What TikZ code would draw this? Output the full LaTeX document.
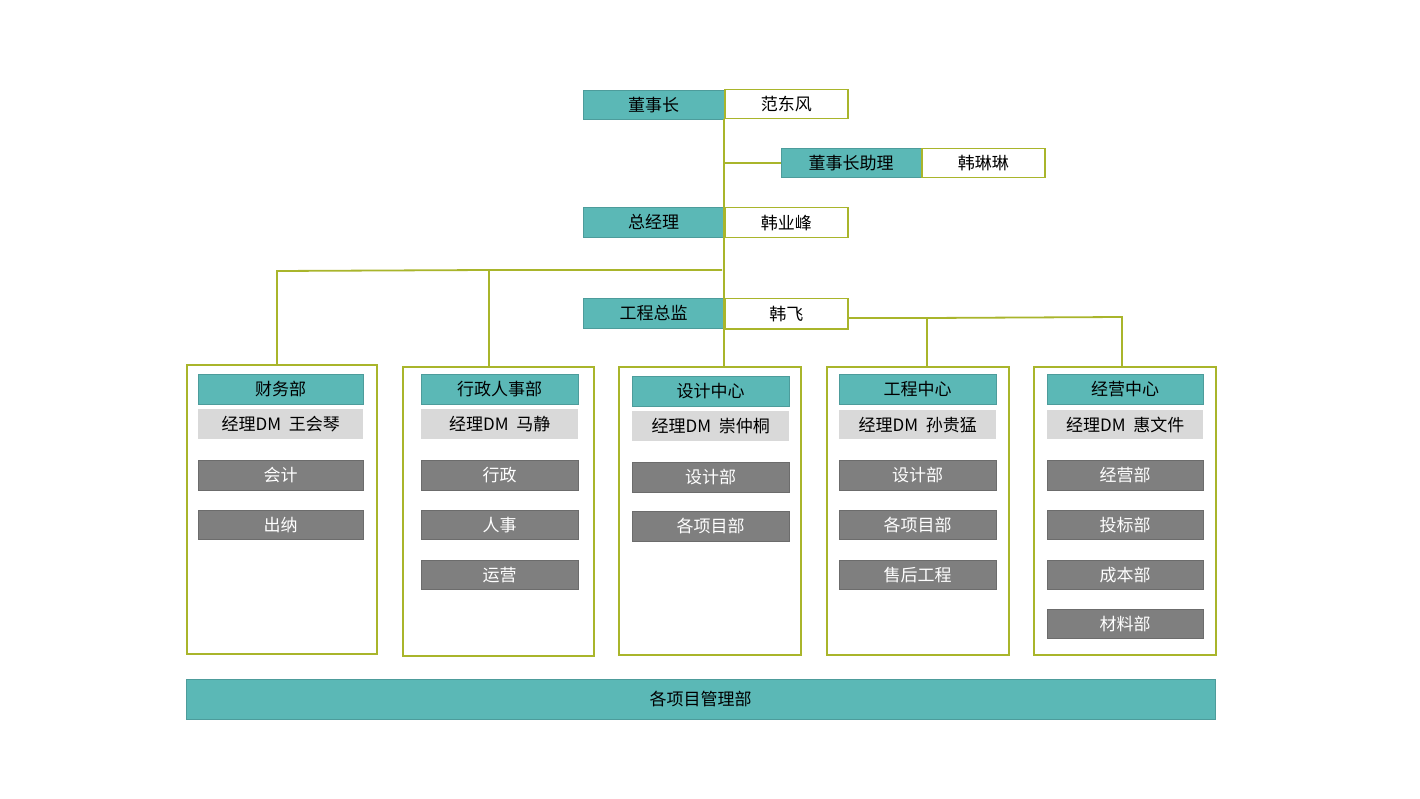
\documentclass[tikz,border=0pt]{standalone}
\usepackage{fontspec}
\setmainfont{Noto Sans CJK SC}
\definecolor{tealc}{HTML}{5BB8B6}
\definecolor{olivec}{HTML}{A9B52B}
\definecolor{darkg}{HTML}{7F7F7F}
\definecolor{lightg}{HTML}{D9D9D9}
\tikzset{
  base/.style={anchor=north west, inner sep=0pt, font=\fontsize{17}{19}\selectfont},
  tealbox/.style={base, fill=tealc, draw=tealc!85!black, line width=0.4pt, text=black},
  namebox/.style={base, fill=white, draw=olivec, line width=1.5pt, text=black},
  mgrbox/.style={base, fill=lightg, text=black},
  itembox/.style={base, fill=darkg, draw=darkg!85!black, line width=0.4pt, text=white},
  deptbox/.style={anchor=north west, inner sep=0pt, draw=olivec, line width=2pt, fill=white},
  conn/.style={draw=olivec, line width=1.8pt}
}
\begin{document}
\begin{tikzpicture}[x=1pt,y=-1pt]
\useasboundingbox[fill=white] (0,0) rectangle (1420,799);

% department frames
\node[deptbox, minimum width=190, minimum height=289] (d1) at (186,364) {};
\node[deptbox, minimum width=191, minimum height=289] (d2) at (402,366) {};
\node[deptbox, minimum width=182, minimum height=288] (d3) at (618,366) {};
\node[deptbox, minimum width=182, minimum height=288] (d4) at (826,366) {};
\node[deptbox, minimum width=182, minimum height=288] (d5) at (1033,366) {};

% top hierarchy
\node[tealbox, minimum width=141, minimum height=29] (dsz) at (583,90) {董事长};
\node[namebox, minimum width=123, minimum height=29] (fdf) at (724,89) {范东风};
\node[tealbox, minimum width=140, minimum height=29] (zl) at (781,148) {董事长助理};
\node[namebox, minimum width=123, minimum height=29] (hll) at (921,148) {韩琳琳};
\node[tealbox, minimum width=141, minimum height=30] (zjl) at (583,207) {总经理};
\node[namebox, minimum width=123, minimum height=30] (hyf) at (724,207) {韩业峰};
\node[tealbox, minimum width=141, minimum height=30] (gczj) at (583,298) {工程总监};
\node[namebox, minimum width=123, minimum height=30] (hf) at (724,298) {韩飞};

% connectors
\coordinate (top) at (fdf.south west);
\coordinate (j1) at (722,270);
\coordinate (c1) at (277,271);
\coordinate (c2) at (489,270);
\coordinate (c4) at (927,318);
\coordinate (c5) at (1122,317);
\draw[conn] (top) -- (top |- d3.north);
\draw[conn] (top |- zl.west) -- (zl.west);
\draw[conn] (j1) -- (c2) -- (c1) -- (c1 |- d1.north);
\draw[conn] (c2) -- (c2 |- d2.north);
\draw[conn] (hf.east |- c4) -- (c4) -- (c5) -- (c5 |- d5.north);
\draw[conn] (c4) -- (c4 |- d4.north);

% dept 1
\node[tealbox, minimum width=165, minimum height=30] (h1) at (198,374) {财务部};
\node[mgrbox, minimum width=165, minimum height=30] (m1) at (198,409) {经理DM\ \ 王会琴};
\node[itembox, minimum width=165, minimum height=30] (i11) at (198,460) {会计};
\node[itembox, minimum width=165, minimum height=29] (i12) at (198,510) {出纳};

% dept 2
\node[tealbox, minimum width=157, minimum height=30] (h2) at (421,374) {行政人事部};
\node[mgrbox, minimum width=157, minimum height=30] (m2) at (421,409) {经理DM\ \ 马静};
\node[itembox, minimum width=157, minimum height=30] (i21) at (421,460) {行政};
\node[itembox, minimum width=157, minimum height=29] (i22) at (421,510) {人事};
\node[itembox, minimum width=157, minimum height=29] (i23) at (421,560) {运营};

% dept 3
\node[tealbox, minimum width=157, minimum height=30] (h3) at (632,376) {设计中心};
\node[mgrbox, minimum width=157, minimum height=30] (m3) at (632,411) {经理DM\ \ 崇仲桐};
\node[itembox, minimum width=157, minimum height=30] (i31) at (632,462) {设计部};
\node[itembox, minimum width=157, minimum height=30] (i32) at (632,511) {各项目部};

% dept 4
\node[tealbox, minimum width=157, minimum height=30] (h4) at (839,374) {工程中心};
\node[mgrbox, minimum width=157, minimum height=29] (m4) at (839,410) {经理DM\ \ 孙贵猛};
\node[itembox, minimum width=157, minimum height=30] (i41) at (839,460) {设计部};
\node[itembox, minimum width=157, minimum height=29] (i42) at (839,510) {各项目部};
\node[itembox, minimum width=157, minimum height=29] (i43) at (839,560) {售后工程};

% dept 5
\node[tealbox, minimum width=156, minimum height=30] (h5) at (1047,374) {经营中心};
\node[mgrbox, minimum width=156, minimum height=29] (m5) at (1047,410) {经理DM\ \ 惠文件};
\node[itembox, minimum width=156, minimum height=30] (i51) at (1047,460) {经营部};
\node[itembox, minimum width=156, minimum height=29] (i52) at (1047,510) {投标部};
\node[itembox, minimum width=156, minimum height=29] (i53) at (1047,560) {成本部};
\node[itembox, minimum width=156, minimum height=29] (i54) at (1047,609) {材料部};

% bottom bar
\node[tealbox, minimum width=1029, minimum height=40] (bar) at (186,679) {各项目管理部};
\end{tikzpicture}
\end{document}
